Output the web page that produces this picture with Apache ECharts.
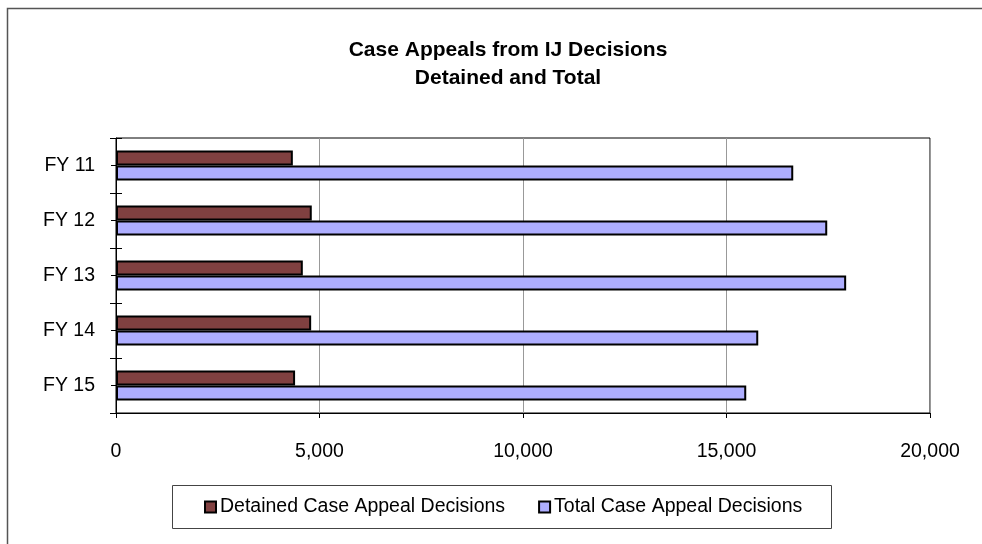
<!DOCTYPE html>
<html>
<head>
<meta charset="utf-8">
<script src="https://cdn.jsdelivr.net/npm/echarts@6/dist/echarts.min.js"></script>
<style>
  html, body { margin: 0; padding: 0; background: #fff; }
  #chart { width: 982px; height: 544px; }
</style>
</head>
<body>
<div id="chart"></div>
<script>
// Fiscal years shown top to bottom
const categories = ['FY 11', 'FY 12', 'FY 13', 'FY 14', 'FY 15'];
// Appeals of detained cases
const detained = [4345, 4810, 4590, 4795, 4400];
// All case appeals
const total = [16640, 17475, 17940, 15780, 15485];
// Value axis ticks
const xTicks = [0, 5000, 10000, 15000, 20000];

const titleLines = ['Case Appeals from IJ Decisions', 'Detained and Total'];
const seriesNames = ['Detained Case Appeal Decisions', 'Total Case Appeal Decisions'];

const FONT = '"Liberation Sans", Arial, sans-serif';
const chart = echarts.init(document.getElementById('chart'), null, { renderer: 'canvas' });

// shared category-axis base; extra copies only add tick marks
const catBase = {
  type: 'category', inverse: true, data: categories, position: 'left'
};

chart.setOption({
  animation: false,
  backgroundColor: '#ffffff',
  textStyle: { fontFamily: FONT },
  graphic: [
    {
      type: 'rect', silent: true, z: -1,
      shape: { x: 7.5, y: 8.5, width: 1100, height: 700 },
      style: { fill: 'none', stroke: '#555', lineWidth: 1.5 }
    },
    {
      type: 'text', silent: true,
      style: {
        x: 508, y: 36.5, text: titleLines.join('\n'),
        font: 'bold 21px ' + FONT, fill: '#000',
        align: 'center', lineHeight: 28
      }
    },
    {
      type: 'rect', silent: true,
      shape: { x: 172.5, y: 485.5, width: 659, height: 43 },
      style: { fill: 'none', stroke: '#444', lineWidth: 1 }
    }
  ],
  legend: {
    left: 204, top: 497, padding: 0,
    itemWidth: 11, itemHeight: 11, itemGap: 33,
    icon: 'rect',
    textStyle: { fontSize: 19.5, color: '#000', fontFamily: FONT, padding: [0, 0, 0, -1] },
    data: seriesNames
  },
  grid: {
    left: 116, top: 138, right: 52, bottom: 131,
    show: true, borderColor: '#000', borderWidth: 1,
    containLabel: false
  },
  xAxis: {
    type: 'value',
    min: xTicks[0], max: xTicks[xTicks.length - 1], interval: 5000,
    axisLine: { show: true, lineStyle: { color: '#000', width: 1 } },
    axisTick: { show: true, length: 5, lineStyle: { color: '#000' } },
    axisLabel: {
      color: '#000', fontSize: 19.5, margin: 29, fontFamily: FONT,
      formatter: v => v.toLocaleString('en-US')
    },
    splitLine: { show: true, lineStyle: { color: '#999', width: 1 } }
  },
  yAxis: [
    Object.assign({}, catBase, {
      axisLine: { show: true, lineStyle: { color: '#000', width: 1 } },
      axisTick: { show: true, length: 6, lineStyle: { color: '#000' } },
      axisLabel: { color: '#000', fontSize: 19.5, margin: 21, fontFamily: FONT }
    }),
    Object.assign({}, catBase, {
      axisLine: { show: false },
      axisTick: { show: true, inside: true, length: 6, lineStyle: { color: '#000' } },
      axisLabel: { show: false }
    }),
    Object.assign({}, catBase, {
      axisLine: { show: false },
      axisTick: { show: true, alignWithLabel: true, length: 5, lineStyle: { color: '#000' } },
      axisLabel: { show: false }
    })
  ],
  series: [
    {
      name: seriesNames[0], type: 'bar', data: detained, yAxisIndex: 0,
      barWidth: 15, barGap: '0%',
      itemStyle: { color: '#804040', borderColor: '#000', borderWidth: 2 }
    },
    {
      name: seriesNames[1], type: 'bar', data: total, yAxisIndex: 0,
      barWidth: 15, barGap: '0%',
      itemStyle: { color: '#AEAEFF', borderColor: '#000', borderWidth: 2 }
    }
  ]
});
</script>
</body>
</html>
